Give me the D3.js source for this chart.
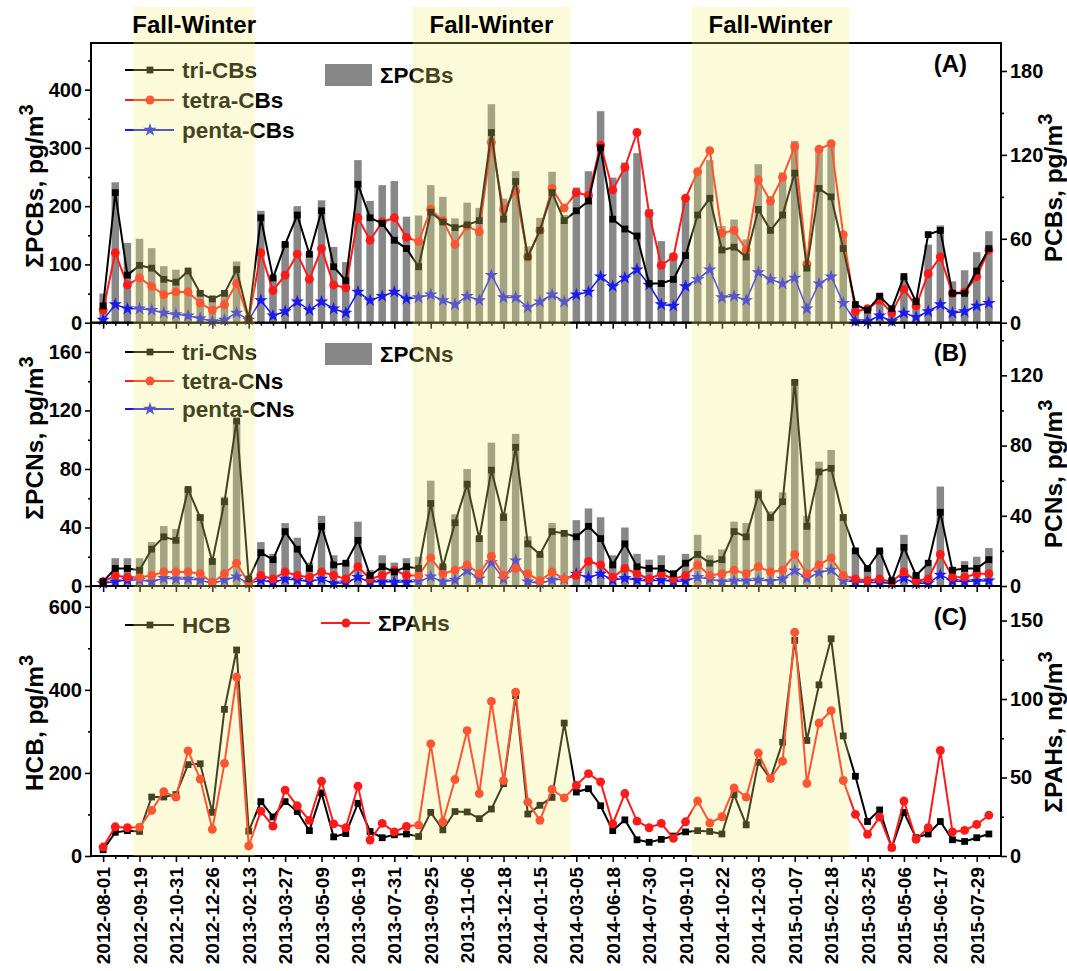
<!DOCTYPE html>
<html>
<head>
<meta charset="utf-8">
<script src="https://cdn.jsdelivr.net/npm/d3@7/dist/d3.min.js"></script>
<style>
  body { margin: 0; background: #fff; }
  text { font-family: "Liberation Sans", Arial, sans-serif; font-weight: bold; }
</style>
</head>
<body>
<svg id="chart" width="1067" height="971"></svg>
<script>
// tick labels (every third sampling date)
let dateLabels = ['2012-08-01','2012-09-19','2012-10-31','2012-12-26','2013-02-13','2013-03-27','2013-05-09',
  '2013-06-19','2013-07-31','2013-09-25','2013-11-06','2013-12-18','2014-01-15','2014-03-05','2014-06-18',
  '2014-07-30','2014-09-10','2014-10-22','2014-12-03','2015-01-07','2015-02-18','2015-03-25','2015-05-06',
  '2015-06-17','2015-07-29'];
let nSamples = 74;
// fall-winter periods, as sample index ranges
let seasons = [[2.5, 12.5], [25.5, 38.5], [48.5, 61.5]];

// panel A
let sumPCBs = [50,241,137,144,128,97,91,88,55,43,55,105,10,192,80,138,200,120,210,130,104,279,209,236,243,182,184,236,216,179,
  206,197,375,213,260,131,180,259,185,232,260,363,249,275,291,195,140,120,209,262,279,166,177,143,272,217,258,312,97,297,
  310,154,30,25,50,13,79,42,134,167,71,90,121,157];
let triCBs = [12,93,34,41,39,31,29,37,21,17,21,38,3,75,32,56,77,49,80,40,30,99,75,71,59,53,40,79,72,68,
  70,73,136,74,101,47,66,93,73,80,87,125,74,67,62,28,28,31,48,77,89,52,54,47,81,66,77,107,39,96,
  90,53,13,9,19,10,33,15,63,66,21,21,37,53];
let tetraCBs = [9,50,27,32,26,20,22,22,14,9,13,28,2,50,23,34,49,31,53,27,25,75,59,72,75,61,58,81,73,56,
  69,65,129,81,94,47,66,96,82,93,91,127,95,111,136,78,41,47,89,108,123,64,66,52,102,87,104,126,42,124,
  128,63,8,10,16,7,24,12,35,47,21,22,33,52];
let pentaCBs = [2,13,10,10,9,7,6,5,3,1,2,7,2,16,5,8,15,9,15,10,7,22,16,19,22,17,18,20,16,13,
  19,16,34,18,18,11,15,20,15,20,22,33,26,32,38,27,13,12,26,31,38,18,19,16,36,31,28,32,10,28,
  33,14,1,1,5,1,7,4,8,13,7,8,12,14];

// panel B
let sumPCNs = [5,19,19,19,30,41,39,67,49,19,61,114,6,30,22,43,33,16,48,21,17,44,11,21,16,19,20,72,14,49,
  80,34,98,50,104,34,22,43,38,45,53,47,21,40,22,18,21,10,22,35,21,25,44,43,66,51,64,141,48,85,
  93,49,26,13,25,5,35,9,13,68,13,17,20,26];
let triCNs = [2.5,10,10,9,21,28,26,55,39,14,48,94,4,19,15,31,21,10,34,12,13,26,6,11,8,11,10,47,11,36,
  58,27,66,39,79,24,18,31,30,28,34,27,12,24,11,10,10,7,13,18,13,15,31,28,52,39,48,116,34,65,
  67,39,20,10,20,3,22,6,13,42,9,10,10,15];
let tetraCNs = [2.5,6,5,5,6,8,8,8,7,2,7,13,1.5,6,4,8,6,5,8,6,4,11,4,6,9,6,6,16,7,9,
  12,7,17,6,10,7,3,8,4,6,14,12,5,10,7,4,7,4,6,12,6,7,9,7,11,8,9,18,7,12,
  16,6,4,3,4,2.5,8,3,4,18,5,5,7,7];
let pentaCNs = [1.5,2.5,3.4,3.4,2.5,4.4,4,4,3.4,1.5,3.4,5.3,1.5,3.4,2,4,3.4,2.5,4,1.5,1.9,5,2.3,2.5,2.3,2.3,2.6,5.3,2.5,3.4,
  8.8,4.2,13.4,4,14.5,2.5,1.5,3.4,4,6.9,4.8,6.9,3.4,4.4,3.4,2.9,3.4,2.5,3,5,4,2.5,3,3,3.4,2.8,4,8.8,4.4,7.6,
  9.2,3,2.5,2,2,1.5,4.4,1.5,1.5,6.3,2.8,2.5,2.8,3];

// panel C
let hcb = [15,57,61,59,142,142,148,220,222,105,353,496,60,131,94,131,107,61,152,46,54,127,59,44,51,53,47,105,63,107,
  106,90,113,174,386,101,122,141,320,154,162,121,61,87,39,33,40,48,58,61,59,53,148,75,226,186,274,519,278,412,
  523,289,192,83,111,20,105,44,53,83,39,35,44,53];
let pahs = [5.7,18.6,18,18.4,29,41,37.5,67,49,17,59,114,6.4,28.6,19,42,32,22.7,47.6,20.5,18,44.5,10.2,20.8,15.4,18.9,19.7,71.4,21.8,48.7,
  79.8,39.8,98.5,48,104.4,34.3,22.7,42.4,37,45,52.5,47.2,20.5,39.8,22.2,18,20.8,11.2,21.8,35,21,25,43.4,37.5,65.6,49.4,60.4,142.5,46.2,84.7,
  92.6,48.1,26.5,13.8,24.8,5.3,35,10.6,18,67.2,15.4,16.3,20.1,26];

let svg = d3.select('#chart');
let plotLeft = 91, plotRight = 1001;
let idx = d3.range(nSamples);
let x = d3.scalePoint().domain(idx).range([plotLeft, plotRight]).padding(1);
let step = x.step();
let xAt = v => x(0) + v * step;

let panels = [
  {top: 43, bottom: 322.7, left: [0, 480], right: [0, 200], lTicks: d3.range(0, 401, 100), rTicks: [0, 60, 120, 180],
   lMinor: 50, rMinor: 30, label: '(A)', labelY: 72,
   lTitle: ['ΣPCBs, pg/m', '3'], lTitleY: 186, rTitle: ['PCBs, pg/m', '3'], rTitleY: 188},
  {top: 322.7, bottom: 586, left: [0, 180], right: [0, 150], lTicks: d3.range(0, 161, 40), rTicks: [0, 40, 80, 120],
   lMinor: 20, rMinor: 20, label: '(B)', labelY: 361,
   lTitle: ['ΣPCNs, pg/m', '3'], lTitleY: 438, rTitle: ['PCNs, pg/m', '3'], rTitleY: 474},
  {top: 586, bottom: 856, left: [0, 650], right: [0, 172], lTicks: d3.range(0, 601, 200), rTicks: [0, 50, 100, 150],
   lMinor: 100, rMinor: 25, label: '(C)', labelY: 625,
   lTitle: ['HCB, pg/m', '3'], lTitleY: 723, rTitle: ['ΣPAHs, ng/m', '3'], rTitleY: 732}
];
panels.forEach(p => {
  p.yl = d3.scaleLinear().domain(p.left).range([p.bottom, p.top]);
  p.yr = d3.scaleLinear().domain(p.right).range([p.bottom, p.top]);
});

let grey = '#878787';
let black = '#000000', red = '#ff1a1a', blue = '#1a1aee';
let star = d3.symbol().type(d3.symbolStar).size(55);
let square = d3.symbol().type(d3.symbolSquare).size(46);
let circle = d3.symbol().type(d3.symbolCircle).size(62);

let plot = svg.append('g');

function drawBars(p, values) {
  plot.append('g').selectAll('rect')
    .data(values)
    .join('rect')
    .attr('x', (d, i) => x(i) - step * 0.31)
    .attr('width', step * 0.62)
    .attr('y', d => p.yl(d))
    .attr('height', d => p.bottom - p.yl(d))
    .attr('fill', grey);
}

function drawSeries(p, values, scale, color, symbol, width) {
  let line = d3.line().x((d, i) => x(i)).y(d => scale(d));
  plot.append('path')
    .datum(values)
    .attr('d', line)
    .attr('fill', 'none')
    .attr('stroke', color)
    .attr('stroke-width', width);
  plot.append('g').selectAll('path')
    .data(values)
    .join('path')
    .attr('d', symbol)
    .attr('transform', (d, i) => `translate(${x(i)},${scale(d)})`)
    .attr('fill', color);
}

function legendLine(y, color, symbol, label, x0) {
  let g = plot.append('g');
  g.append('line').attr('x1', x0).attr('x2', x0 + 49).attr('y1', y).attr('y2', y)
    .attr('stroke', color).attr('stroke-width', 2);
  g.append('path').attr('d', symbol).attr('transform', `translate(${x0 + 25},${y})`).attr('fill', color);
  g.append('text').attr('x', x0 + 57).attr('y', y + 8).attr('font-size', 22.5).text(label);
}

function legendBar(y, label) {
  plot.append('rect').attr('x', 325).attr('y', y - 11).attr('width', 47).attr('height', 22).attr('fill', grey);
  plot.append('text').attr('x', 380).attr('y', y + 8).attr('font-size', 22.5).text(label);
}

// panel A
let pA = panels[0];
drawBars(pA, sumPCBs);
drawSeries(pA, pentaCBs, pA.yr, blue, star, 1.5);
drawSeries(pA, tetraCBs, pA.yr, red, circle, 2);
drawSeries(pA, triCBs, pA.yr, black, square, 2);
legendLine(70, black, square, 'tri-CBs', 125);
legendLine(100, red, circle, 'tetra-CBs', 125);
legendLine(130, blue, star, 'penta-CBs', 125);
legendBar(75, 'ΣPCBs');

// panel B
let pB = panels[1];
drawBars(pB, sumPCNs);
drawSeries(pB, pentaCNs, pB.yr, blue, star, 1.5);
drawSeries(pB, tetraCNs, pB.yr, red, circle, 2);
drawSeries(pB, triCNs, pB.yr, black, square, 2);
legendLine(352, black, square, 'tri-CNs', 125);
legendLine(381, red, circle, 'tetra-CNs', 125);
legendLine(409, blue, star, 'penta-CNs', 125);
legendBar(354, 'ΣPCNs');

// panel C
let pC = panels[2];
drawSeries(pC, hcb, pC.yl, black, square, 2);
drawSeries(pC, pahs, pC.yr, red, circle, 2);
legendLine(625, black, square, 'HCB', 125);
legendLine(623, red, circle, 'ΣPAHs', 321);

// axes
panels.forEach((p, k) => {
  let ax = svg.append('g');
  ax.append('g').attr('transform', `translate(${plotLeft},0)`)
    .call(d3.axisLeft(p.yl).tickValues(p.lTicks).tickSize(6).tickPadding(3));
  ax.append('g').attr('transform', `translate(${plotLeft},0)`)
    .call(d3.axisLeft(p.yl).tickValues(d3.range(p.left[0], p.left[1], p.lMinor).filter(v => !p.lTicks.includes(v)))
      .tickSize(3).tickFormat(''));
  ax.append('g').attr('transform', `translate(${plotRight},0)`)
    .call(d3.axisRight(p.yr).tickValues(p.rTicks).tickSize(6).tickPadding(3));
  ax.append('g').attr('transform', `translate(${plotRight},0)`)
    .call(d3.axisRight(p.yr).tickValues(d3.range(p.right[0], p.right[1], p.rMinor).filter(v => !p.rTicks.includes(v)))
      .tickSize(3).tickFormat(''));
  ax.append('g').attr('transform', `translate(0,${p.bottom})`)
    .call(d3.axisBottom(x).tickValues(idx.filter(i => i % 3 == 0)).tickSize(6).tickFormat(''));
  ax.append('g').attr('transform', `translate(0,${p.bottom})`)
    .call(d3.axisBottom(x).tickValues(idx.filter(i => i % 3 != 0)).tickSize(3).tickFormat(''));
  ax.selectAll('.domain').remove();
  ax.selectAll('line').attr('stroke', '#000').attr('stroke-width', 1.6);
  ax.selectAll('text').attr('font-size', 20).attr('font-family', '"Liberation Sans", Arial, sans-serif').attr('fill', '#000');
  // frame
  ax.append('rect').attr('x', plotLeft).attr('y', p.top).attr('width', plotRight - plotLeft).attr('height', p.bottom - p.top)
    .attr('fill', 'none').attr('stroke', '#000').attr('stroke-width', 2);
  // panel tag
  svg.append('text').attr('x', 967).attr('y', p.labelY).attr('text-anchor', 'end').attr('font-size', 24).text(p.label);
  // axis titles
  let lt = svg.append('text').attr('transform', `translate(43,${p.lTitleY}) rotate(-90)`)
    .attr('text-anchor', 'middle').attr('font-size', 24.5);
  lt.append('tspan').text(p.lTitle[0]);
  lt.append('tspan').attr('dy', -10).attr('font-size', 20).text(p.lTitle[1]);
  let rt = svg.append('text').attr('transform', `translate(1062,${p.rTitleY}) rotate(-90)`)
    .attr('text-anchor', 'middle').attr('font-size', 24.5);
  rt.append('tspan').text(p.rTitle[0]);
  rt.append('tspan').attr('dy', -10).attr('font-size', 20).text(p.rTitle[1]);
});

// date labels under panel C
svg.append('g').selectAll('text')
  .data(dateLabels)
  .join('text')
  .attr('transform', (d, i) => `translate(${x(i * 3) + 7},867) rotate(-90)`)
  .attr('text-anchor', 'end')
  .attr('font-size', 19)
  .text(d => d);

// fall-winter shading on top
svg.append('g').selectAll('rect')
  .data(seasons)
  .join('rect')
  .attr('x', d => xAt(d[0]))
  .attr('width', d => xAt(d[1]) - xAt(d[0]))
  .attr('y', 7)
  .attr('height', 856 - 7)
  .attr('fill', 'rgb(245,240,120)')
  .attr('opacity', 0.28);

svg.append('g').selectAll('text')
  .data(seasons)
  .join('text')
  .attr('x', d => (xAt(d[0]) + xAt(d[1])) / 2)
  .attr('y', 33)
  .attr('text-anchor', 'middle')
  .attr('font-size', 24)
  .text('Fall-Winter');
</script>
</body>
</html>
